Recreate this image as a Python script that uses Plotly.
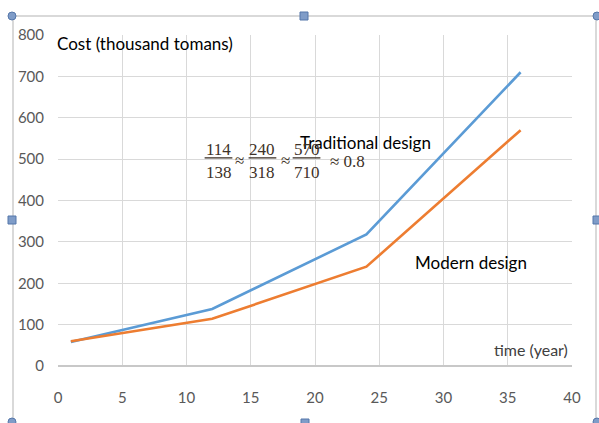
import plotly.graph_objects as go

# Cost over time for the two building designs
years = [1, 12, 24, 36]
traditional_cost = [58, 138, 318, 710]
modern_cost = [60, 114, 240, 570]

x_ticks = [0, 5, 10, 15, 20, 25, 30, 35, 40]
y_ticks = [0, 100, 200, 300, 400, 500, 600, 700, 800]

BLUE = "#5b9bd5"
ORANGE = "#ed7d31"
GRID = "#d9d9d9"
SANS = "Lato, Roboto, Liberation Sans, sans-serif"
SERIF = "Liberation Serif, DejaVu Serif, serif"

# plot-area geometry in pixels (used to place the chart frame decorations)
L, R, T, B = 58, 572, 35, 366


def px(x):
    return (x - L) / (R - L)


def py(y):
    return (B - y) / (B - T)


fig = go.Figure()
fig.add_trace(go.Scatter(x=years, y=traditional_cost, mode="lines",
                         line=dict(color=BLUE, width=2.6), name="Traditional design"))
fig.add_trace(go.Scatter(x=years, y=modern_cost, mode="lines",
                         line=dict(color=ORANGE, width=2.6), name="Modern design"))

annotations = [
    dict(xref="paper", yref="paper", x=px(55), y=py(43), text="Cost (thousand tomans)",
         xanchor="left", yanchor="middle",
         font=dict(family=SANS, size=17, color="#000000")),
    dict(x=18.7, y=539, text="Traditional design", xanchor="left", yanchor="middle",
         font=dict(family=SANS, size=17, color="#000000")),
    dict(x=27.6, y=251, text="Modern design", xanchor="left", yanchor="middle",
         font=dict(family=SANS, size=17, color="#000000")),
    dict(x=39.85, y=41, text="time (year)", xanchor="right", yanchor="middle",
         font=dict(family=SANS, size=16, color="#404040")),
]

# ratio expression written as stacked fractions
FRAC_COLOR = "#3e3228"
fractions = [("114", "138", 12.49), ("240", "318", 15.91), ("570", "710", 19.34)]
shapes = []
for num, den, cx in fractions:
    annotations.append(dict(x=cx, y=523, text=num, xanchor="center", yanchor="middle",
                            font=dict(family=SERIF, size=17, color=FRAC_COLOR)))
    annotations.append(dict(x=cx, y=468, text=den, xanchor="center", yanchor="middle",
                            font=dict(family=SERIF, size=17, color=FRAC_COLOR)))
    shapes.append(dict(type="line", xref="x", yref="y", x0=cx - 1.08, x1=cx + 1.08,
                       y0=503, y1=503, line=dict(color=FRAC_COLOR, width=1.3)))
for ax in (14.09, 17.67):
    annotations.append(dict(x=ax, y=497, text="≈", xanchor="center", yanchor="middle",
                            font=dict(family=SERIF, size=17, color=FRAC_COLOR)))
annotations.append(dict(x=21.0, y=494, text="≈ 0.8", xanchor="left", yanchor="middle",
                        font=dict(family=SERIF, size=17, color=FRAC_COLOR)))

for a in annotations:
    a.setdefault("xref", "x")
    a.setdefault("yref", "y")
    a["showarrow"] = False

# chart-area border with selection handles
shapes.append(dict(type="rect", xref="paper", yref="paper",
                   x0=px(13), x1=px(596), y0=py(16), y1=py(425),
                   line=dict(color="#d9d9d9", width=2), layer="below"))
HANDLE_FILL = "#7f9cc8"
HANDLE_LINE = "#5577aa"
for hx, hy in [(12, 16), (597, 16), (12, 422), (597, 422)]:
    shapes.append(dict(type="circle", xref="paper", yref="paper",
                       x0=px(hx - 4), x1=px(hx + 4), y0=py(hy - 4), y1=py(hy + 4),
                       fillcolor=HANDLE_FILL, line=dict(color=HANDLE_LINE, width=1)))
for hx, hy in [(304, 16), (12, 220), (597, 220), (305, 423)]:
    shapes.append(dict(type="rect", xref="paper", yref="paper",
                       x0=px(hx - 4), x1=px(hx + 4), y0=py(hy - 4), y1=py(hy + 4),
                       fillcolor=HANDLE_FILL, line=dict(color=HANDLE_LINE, width=1)))

fig.update_layout(
    width=599, height=423,
    margin=dict(l=L, r=599 - R, t=T, b=423 - B),
    paper_bgcolor="white", plot_bgcolor="white",
    showlegend=False,
    annotations=annotations,
    shapes=shapes,
    xaxis=dict(range=[0, 40], tickvals=x_ticks, ticktext=[str(v) for v in x_ticks],
               showgrid=True, gridcolor=GRID, gridwidth=1, zeroline=False,
               showline=False, ticks="", ticklabelstandoff=21,
               tickfont=dict(family=SANS, size=15, color="#595959")),
    yaxis=dict(range=[0, 800], tickvals=y_ticks, ticktext=[str(v) for v in y_ticks],
               showgrid=True, gridcolor=GRID, gridwidth=1, zeroline=True,
               zerolinecolor="#c8c8c8", zerolinewidth=1.5,
               showline=False, ticks="", ticklabelstandoff=13,
               tickfont=dict(family=SANS, size=15, color="#595959")),
)

fig.write_html("out.html")
